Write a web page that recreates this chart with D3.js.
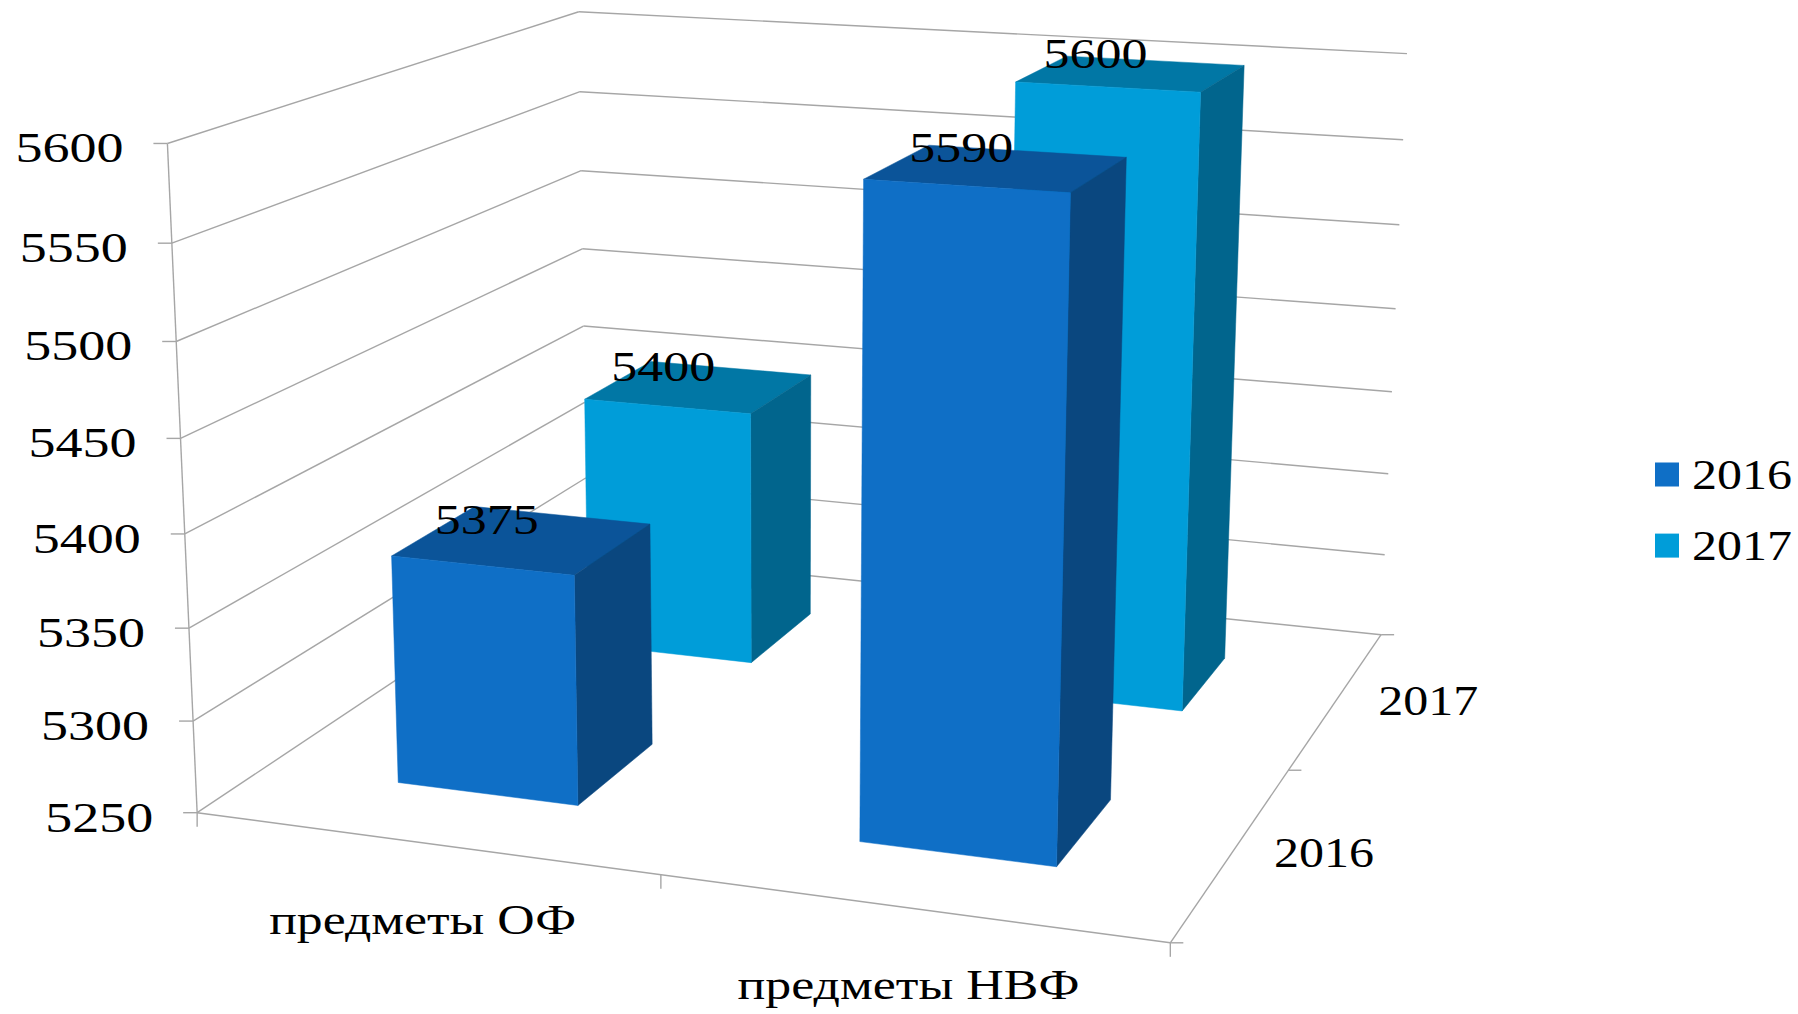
<!DOCTYPE html>
<html><head><meta charset="utf-8">
<style>html,body{margin:0;padding:0;background:#fff}svg{display:block}text{font-family:"Liberation Serif",serif;fill:#000}</style>
<script src="https://cdn.jsdelivr.net/npm/d3@7"></script></head><body>
<svg id="c" width="1798" height="1014"></svg>
<script>
const categories=["предметы ОФ","предметы НВФ"];
const seriesNames=["2016","2017"];
const values2016=[5375,5590];
const values2017=[5400,5600];
const valueTicks=[5250,5300,5350,5400,5450,5500,5550,5600];
const frontColors=["#0F6FC6","#009DD9"], sideColors=["#0A477F","#01658D"], topColors=["#0B5499","#0177A5"];
const categoryWidths=[307,342];

const svg=d3.select("#c");
const xBand=d3.scaleBand().domain(categories).range([0,1]).paddingInner(0.6).paddingOuter(0.3);
const zBand=d3.scaleBand().domain(seriesNames).range([0,1]).paddingInner(0.6).paddingOuter(0.3);
const yScale=d3.scaleLinear().domain([5250,5600]).range([0,1]);

// camera calibration: where the cube's corners fall on the page
const calib=[[0,0,0,196.9,812.4],[0,1,0,167.6,143.6],[0,0,1,587,553],[0,1,1,578.6,11.6],
 [1,0,0,1170.4,943],[1,0,1,1381,634.5],[1,1,1,1407,53.7]];
function solve(A,b){const n=b.length,M=A.map((r,i)=>[...r,b[i]]);
 for(let i=0;i<n;i++){let p=i;for(let k=i+1;k<n;k++)if(Math.abs(M[k][i])>Math.abs(M[p][i]))p=k;[M[i],M[p]]=[M[p],M[i]];
  for(let k=0;k<n;k++)if(k!==i){const f=M[k][i]/M[i][i];for(let j=i;j<=n;j++)M[k][j]-=f*M[i][j];}}
 return M.map((r,i)=>r[n]/r[i]);}
const rows=[],rhs=[];
calib.forEach(([u,v,w,x,y])=>{rows.push([u,v,w,1,0,0,0,0,-u*x,-v*x,-w*x]);rhs.push(x);rows.push([0,0,0,0,u,v,w,1,-u*y,-v*y,-w*y]);rhs.push(y);});
const ATA=d3.range(11).map(i=>d3.range(11).map(j=>d3.sum(rows,r=>r[i]*r[j])));
const ATb=d3.range(11).map(i=>d3.sum(rows,(r,k)=>r[i]*rhs[k]));
const P=solve(ATA,ATb);
function project(u,v,w){const d=P[8]*u+P[9]*v+P[10]*w+1;return [(P[0]*u+P[1]*v+P[2]*w+P[3])/d,(P[4]*u+P[5]*v+P[6]*w+P[7])/d];}
const line=d3.line();
const axisColor="#A6A6A6";
function seg(a,b){svg.append("path").attr("d",line([a,b])).attr("fill","none").attr("stroke",axisColor).attr("stroke-width",1.4);}
function label(t,x,y,anchor,width,size=42){
 svg.append("text").text(t).attr("x",x).attr("y",y).attr("text-anchor",anchor).attr("font-size",size)
  .attr("textLength",width).attr("lengthAdjust","spacingAndGlyphs");
}
// walls
valueTicks.forEach(t=>{const v=yScale(t);const a=project(0,v,0),b=project(0,v,1),c=project(1,v,1);
 seg(a,b);seg(b,c);seg([a[0]-14,a[1]],a);
 label(String(t),a[0]-44,a[1]+19,"end",108);
});
seg(project(0,0,0),project(0,1,0));
seg(project(0,0,0),project(1,0,0));
seg(project(1,0,0),project(1,0,1));
[0,0.5,1].forEach(u=>{const p=project(u,0,0);seg(p,[p[0],p[1]+14]);});
[0,0.5,1].forEach(w=>{const p=project(1,0,w);seg(p,[p[0]+13,p[1]]);});

// bars, rear series first
const labels=[];
[1,0].forEach(si=>{const vals=si===0?values2016:values2017;
 categories.forEach((c,ci)=>{
  const u0=xBand(c),u1=u0+xBand.bandwidth(),w0=zBand(seriesNames[si]),w1=w0+zBand.bandwidth(),v=yScale(vals[ci]);
  const face=(pts,fill)=>svg.append("path").attr("d",line(pts.map(p=>project(...p)))+"Z").attr("fill",fill).attr("stroke",fill).attr("stroke-width",0.5);
  face([[u0,v,w0],[u1,v,w0],[u1,v,w1],[u0,v,w1]],topColors[si]);
  face([[u1,0,w0],[u1,v,w0],[u1,v,w1],[u1,0,w1]],sideColors[si]);
  face([[u0,0,w0],[u1,0,w0],[u1,v,w0],[u0,v,w0]],frontColors[si]);
  const q=project((u0+u1)/2,v,(w0+w1)/2);
  labels.push([String(vals[ci]),q[0]-36,q[1]-6]);
 });
});
labels.forEach(l=>label(l[0],l[1],l[2],"middle",104));

// axis labels
categories.forEach((c,i)=>{const u=xBand(c)+xBand.bandwidth()/2,p=project(u,0,0);label(c,p[0]-1,p[1]+91,"middle",categoryWidths[i]);});
seriesNames.forEach(s=>{const w=zBand(s)+zBand.bandwidth()/2,p=project(1,0,w);label(s,p[0]+91,p[1]+16,"middle",100);});

// legend
const legendY=d3.scalePoint().domain(seriesNames).range([462.5,533.6]);
seriesNames.forEach((s,i)=>{
 svg.append("rect").attr("x",1655).attr("y",legendY(s)).attr("width",24).attr("height",24).attr("fill",frontColors[i]);
 label(s,1692,legendY(s)+26,"start",100);
});
</script></body></html>
